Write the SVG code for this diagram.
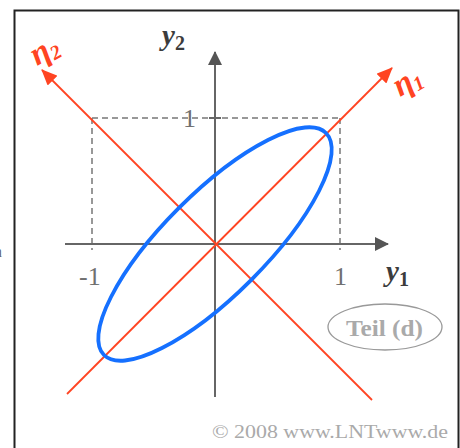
<svg xmlns="http://www.w3.org/2000/svg" width="460" height="448" viewBox="0 0 460 448">
<defs>
<style>
.axis{stroke:#666;stroke-width:2;fill:none}
.dash{stroke:#777;stroke-width:1.5;stroke-dasharray:6 4;fill:none}
.red{stroke:#ff4422;stroke-width:1.8;fill:none}
.lbl{font-family:"Liberation Serif",serif;fill:#707070}
.ax{font-family:"Liberation Serif",serif;font-style:italic;font-weight:bold;fill:#3c3c3c}
.eta{font-family:"Liberation Serif","DejaVu Serif",serif;font-style:italic;font-weight:bold;fill:#ff4422}
</style>
<marker id="ga" viewBox="0 0 14 14" refX="13" refY="7" markerWidth="14" markerHeight="14" markerUnits="userSpaceOnUse" orient="auto"><path d="M0,0 L14,7 L0,14 Z" fill="#555"/></marker>
<marker id="ra" viewBox="0 0 16 14" refX="15" refY="7" markerWidth="16" markerHeight="14" markerUnits="userSpaceOnUse" orient="auto"><path d="M0,0 L16,7 L0,14 Z" fill="#ff4422"/></marker>
</defs>
<rect x="0" y="0" width="460" height="448" fill="#fff"/>
<text x="-6" y="257" font-family="Liberation Serif,serif" font-size="16" fill="#666">n</text>
<text x="-4" y="321" font-family="Liberation Serif,serif" font-size="16" fill="#888">:</text>
<rect x="14.5" y="10.5" width="444" height="450" fill="none" stroke="#222" stroke-width="2"/>
<g id="grid">
<path class="dash" d="M92,118 H340 M92,118 V250 M340,118 V250"/>
<path class="axis" d="M209,118 H221"/>
</g>
<g id="connectors">
<line class="axis" x1="215" y1="397" x2="215" y2="52" marker-end="url(#ga)"/>
<line class="axis" x1="65" y1="244" x2="388" y2="244" marker-end="url(#ga)"/>
<line class="red" x1="67" y1="394" x2="392" y2="68" marker-end="url(#ra)"/>
<line class="red" x1="372" y1="400" x2="42" y2="70" marker-end="url(#ra)"/>
</g>
<g id="ellipse">
<ellipse cx="215" cy="244" rx="157" ry="51" transform="rotate(-45 215 244)" fill="none" stroke="#1570ff" stroke-width="3.8"/>
</g>
<g id="labels">
<text class="ax" x="162" y="45" font-size="29">y<tspan font-size="20" dy="5" font-style="normal">2</tspan></text>
<text class="ax" x="386" y="281" font-size="29">y<tspan font-size="20" dy="5" font-style="normal">1</tspan></text>
<text class="lbl" x="79" y="285" font-size="26">-1</text>
<text class="lbl" x="334" y="285" font-size="26">1</text>
<text class="lbl" x="183" y="127" font-size="26">1</text>
<text class="eta" x="0" y="0" font-size="33" transform="translate(400,97) rotate(-30)">η<tspan font-size="20" dy="4">1</tspan></text>
<text class="eta" x="0" y="0" font-size="33" transform="translate(37,66) rotate(-30)">η<tspan font-size="20" dy="4">2</tspan></text>
</g>
<g id="teil">
<ellipse cx="385" cy="327" rx="57" ry="23" fill="none" stroke="#999" stroke-width="1.3"/>
<text x="346" y="336" font-family="Liberation Serif,serif" font-weight="bold" font-size="24" fill="#aaa" textLength="77" lengthAdjust="spacingAndGlyphs">Teil (d)</text>
</g>
<text x="212" y="438" font-family="Liberation Serif,serif" font-size="19" fill="#aaa" textLength="236" lengthAdjust="spacingAndGlyphs">© 2008 www.LNTwww.de</text>
</svg>
